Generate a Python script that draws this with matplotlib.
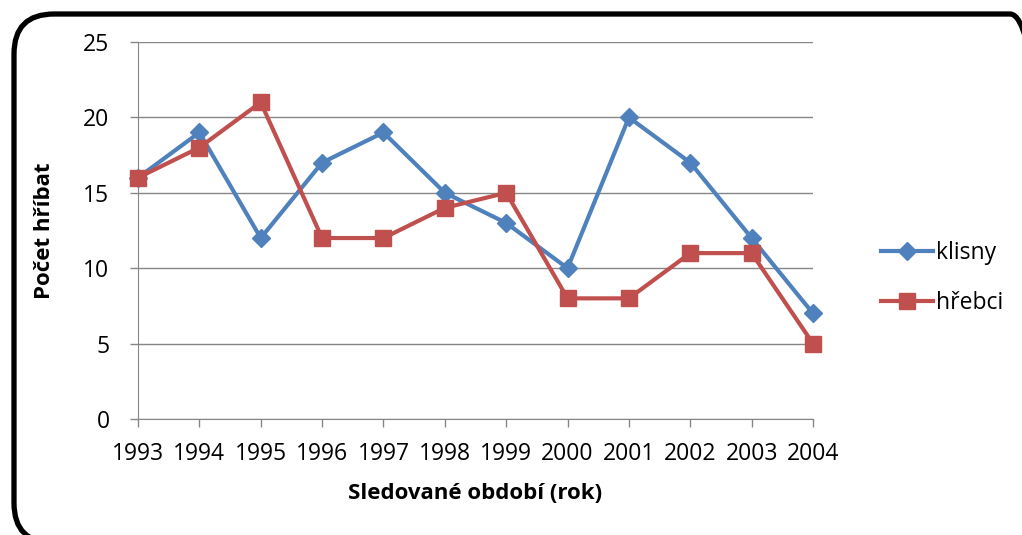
import matplotlib.pyplot as plt
from matplotlib.patches import FancyBboxPatch
from matplotlib.transforms import IdentityTransform

plt.rcParams['font.family'] = ['Open Sans', 'DejaVu Sans']

roky = ['1993', '1994', '1995', '1996', '1997', '1998', '1999', '2000', '2001', '2002', '2003', '2004']
klisny = [16, 19, 12, 17, 19, 15, 13, 10, 20, 17, 12, 7]
hrebci = [16, 18, 21, 12, 12, 14, 15, 8, 8, 11, 11, 5]

W, H = 1022, 535
fig = plt.figure(figsize=(W / 100, H / 100), dpi=100)

# rounded chart border in pixel units, cut off at right/bottom like the original
border = FancyBboxPatch((14, -8), 1050 - 14, H - 14 + 8,
                        boxstyle='round,pad=0,rounding_size=40',
                        transform=IdentityTransform(), fill=False,
                        edgecolor='black', linewidth=3.8, clip_on=False)
fig.patches.append(border)

ax = fig.add_axes([138 / W, 1 - 419 / H, (813 - 138) / W, (419 - 42) / H])
x = list(range(len(roky)))
ax.plot(x, klisny, color='#4F81BD', lw=3, marker='D', ms=9, label='klisny',
        clip_on=False, zorder=3)
ax.plot(x, hrebci, color='#C0504D', lw=3, marker='s', ms=12, label='hřebci',
        clip_on=False, zorder=3)

ax.set_xlim(0, 11)
ax.set_ylim(0, 25)
ax.set_yticks(range(0, 26, 5))
ax.set_xticks(x)
ax.set_xticklabels(roky)
ax.grid(axis='y', color='#868686', lw=1)
ax.set_axisbelow(True)
for s in ['top', 'right']:
    ax.spines[s].set_visible(False)
for s in ['left', 'bottom']:
    ax.spines[s].set_color('#868686')
ax.tick_params(axis='both', colors='#868686', labelcolor='black', labelsize=16.5,
               length=5.5, width=1)
ax.tick_params(axis='x', pad=11)
ax.tick_params(axis='y', pad=15)

ax.set_xlabel('Sledované období (rok)', fontsize=16, fontweight='bold', labelpad=12)
ax.set_ylabel('Počet hříbat', fontsize=16, fontweight='bold', labelpad=20)

ax.legend(loc='center left', bbox_to_anchor=(860 / W, 1 - 278 / H),
          bbox_transform=fig.transFigure, frameon=False, fontsize=16.5,
          handlelength=2.3, handletextpad=0.1, labelspacing=1.1)

fig.savefig('out.png', dpi=100)
